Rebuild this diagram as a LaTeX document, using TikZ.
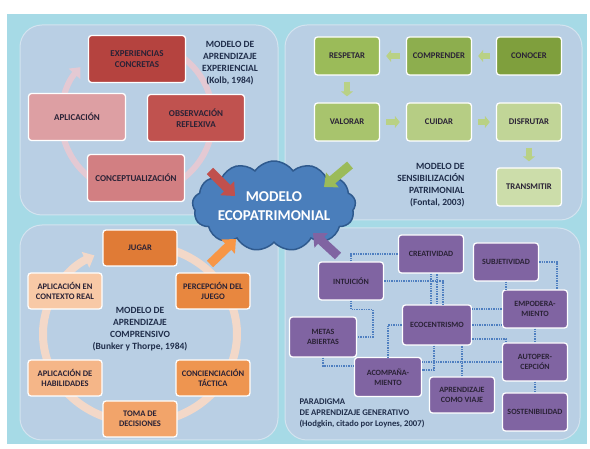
\documentclass[tikz,border=0pt]{standalone}
\usepackage{fontspec}
\setmainfont{Carlito}[BoldFont={Carlito Bold}]
\usepackage{xcolor}
\usetikzlibrary{arrows.meta,shapes.symbols}

\definecolor{bgcyan}{HTML}{A6DAE6}
\definecolor{panel}{HTML}{B9CFE4}
\definecolor{panedge}{HTML}{D3E3EF}
\definecolor{txt}{HTML}{2A2236}
\definecolor{ttl}{HTML}{1F2D4A}
\definecolor{r1}{HTML}{B5433F}
\definecolor{r2}{HTML}{C0524F}
\definecolor{r3}{HTML}{D27F82}
\definecolor{r4}{HTML}{DD9FA3}
\definecolor{g1}{HTML}{7F9F3D}
\definecolor{g2}{HTML}{8DAE4E}
\definecolor{g3}{HTML}{9BBB59}
\definecolor{g4}{HTML}{A8C46D}
\definecolor{g5}{HTML}{B6CD84}
\definecolor{g6}{HTML}{C1D597}
\definecolor{g7}{HTML}{CCDDAA}
\definecolor{o1}{HTML}{E07B36}
\definecolor{o2}{HTML}{E8873F}
\definecolor{o3}{HTML}{EE9550}
\definecolor{o4}{HTML}{F2A46A}
\definecolor{o5}{HTML}{F5B688}
\definecolor{o6}{HTML}{F8C9A6}
\definecolor{purp}{HTML}{8064A2}
\definecolor{lnkblue}{HTML}{4F7FC0}
\definecolor{cloudblue}{HTML}{4A7EBB}
\definecolor{cloudedge}{HTML}{2F5A8E}
\definecolor{ringred}{HTML}{E4C9D3}
\definecolor{ringorange}{HTML}{F3D8C8}
\definecolor{chev}{HTML}{B9D185}
\definecolor{arRed}{HTML}{C0504D}
\definecolor{arGreen}{HTML}{9BBB59}
\definecolor{arOrange}{HTML}{F79646}
\definecolor{arPurple}{HTML}{8064A2}

\begin{document}
\begin{tikzpicture}[
    x=1pt, y=-1pt,
    pane/.style={fill=panel, draw=panedge, line width=1pt, rounded corners=22pt},
    box/.style={rectangle, rounded corners=3pt, draw=white, line width=1.3pt,
                text=txt, align=center, inner sep=1pt,
                font=\bfseries\fontsize{8}{10}\selectfont},
    rbox/.style={box, minimum width=97pt, minimum height=47pt,
                 font=\bfseries\fontsize{9}{11}\selectfont},
    gbox/.style={box, minimum width=65pt, minimum height=38pt,
                 font=\bfseries\fontsize{8.7}{10}\selectfont},
    obox/.style={box, minimum width=74pt, minimum height=36pt,
                 font=\bfseries\fontsize{8.5}{10}\selectfont},
    pbox/.style={box, fill=purp, minimum width=65pt, minimum height=38pt},
    ttl/.style={text=ttl, align=center, font=\bfseries\fontsize{9.5}{12}\selectfont},
    garr/.style={-{Triangle[length=5pt,width=12pt]}, line width=5.5pt, draw=chev,
                 shorten <=6pt, shorten >=6pt},
    big/.style={-{Triangle[length=11pt,width=19pt]}, line width=9pt},
    lnk/.style={draw=lnkblue, line width=1.4pt, densely dotted}
  ]
  \useasboundingbox (0,0) rectangle (590,449);
  \fill[white] (0,0) rectangle (590,449);
  \fill[bgcyan] (7,14) rectangle (587,444);

  % panels
  \draw[pane] (20,25) rectangle (278,215);
  \draw[pane] (285,25) rectangle (582,220);
  \draw[pane] (20,225) rectangle (278,440);
  \draw[pane] (285,228) rectangle (580,440);

  % Kolb
  \draw[ringred, line width=6pt, -{Triangle[length=9pt,width=15pt]}]
    (137,118) ++(-95:76) arc[start angle=-95, end angle=222, radius=76];
  \node[rbox, fill=r1] (exper) at (137,59)  {EXPERIENCIAS\\CONCRETAS};
  \node[rbox, fill=r2] (obser) at (196,118) {OBSERVACIÓN\\REFLEXIVA};
  \node[rbox, fill=r3] (conce) at (136,178) {CONCEPTUALIZACIÓN};
  \node[rbox, fill=r4] (aplic) at (77,117)  {APLICACIÓN};
  \node[ttl] (kolb) at (230,63) {MODELO DE\\APRENDIZAJE\\EXPERIENCIAL\\(Kolb, 1984)};

  % Fontal
  \node[gbox, fill=g3] (respetar)   at (347,56)  {RESPETAR};
  \node[gbox, fill=g2] (comprender) at (439,56)  {COMPRENDER};
  \node[gbox, fill=g1] (conocer)    at (529,56)  {CONOCER};
  \node[gbox, fill=g4] (valorar)    at (347,122) {VALORAR};
  \node[gbox, fill=g5] (cuidar)     at (439,122) {CUIDAR};
  \node[gbox, fill=g6] (disfrutar)  at (529,122) {DISFRUTAR};
  \node[gbox, fill=g7] (transmitir) at (529,187) {TRANSMITIR};
  \foreach \a/\b in {conocer/comprender,comprender/respetar,respetar/valorar,
                     valorar/cuidar,cuidar/disfrutar,disfrutar/transmitir}
    \draw[garr] (\a) -- (\b);
  \node[ttl, align=right, anchor=east] (fontal) at (468,185)
    {MODELO DE\\SENSIBILIZACIÓN\\PATRIMONIAL\\(Fontal, 2003)};

  % Bunker y Thorpe
  \draw[ringorange, line width=8pt, -{Triangle[length=10pt,width=17pt]}]
    (140,334) ++(-80:97 and 89) arc[start angle=-80, end angle=242, x radius=97, y radius=89];
  \node[obox, fill=o1] (jugar)  at (140,248) {JUGAR};
  \node[obox, fill=o2] (percep) at (213,291) {PERCEPCIÓN DEL\\JUEGO};
  \node[obox, fill=o3] (concie) at (213,378) {CONCIENCIACIÓN\\TÁCTICA};
  \node[obox, fill=o4] (toma)   at (140,419) {TOMA DE\\DECISIONES};
  \node[obox, fill=o5] (aplhab) at (65,378)  {APLICACIÓN DE\\HABILIDADES};
  \node[obox, fill=o6] (aplctx) at (65,291)  {APLICACIÓN EN\\CONTEXTO REAL};
  \node[ttl] (bunker) at (140,329)
    {MODELO DE\\APRENDIZAJE\\COMPRENSIVO\\(Bunker y Thorpe, 1984)};

  % Hodgkin
  \node[pbox] (crea)  at (431,254) {CREATIVIDAD};
  \node[pbox] (subj)  at (506,262) {SUBJETIVIDAD};
  \node[pbox] (intu)  at (351,281) {INTUICIÓN};
  \node[pbox] (empo)  at (535,309) {EMPODERA-\\MIENTO};
  \node[pbox, minimum width=69pt, minimum height=40pt] (ecoc) at (437,325) {ECOCENTRISMO};
  \node[pbox, minimum width=67pt, minimum height=40pt] (metas) at (323,337) {METAS\\ABIERTAS};
  \node[pbox] (auto)  at (535,362) {AUTOPER-\\CEPCIÓN};
  \node[pbox, minimum width=67pt, minimum height=39pt] (acomp) at (388,377) {ACOMPAÑA-\\MIENTO};
  \node[pbox, minimum height=36pt] (viaje) at (462,395) {APRENDIZAJE\\COMO VIAJE};
  \node[pbox] (sost)  at (535,412) {SOSTENIBILIDAD};

  \draw[lnk] (intu.north) |- (crea.west);
  \draw[lnk] (intu.east) -| ([xshift=6pt]ecoc.north);
  \draw[lnk] (crea.south) -- (crea.south |- ecoc.north);
  \draw[lnk] (ecoc.north) -- (ecoc.north |- crea.south);
  \draw[lnk] (intu.south) -- ++(0,9) -- ++(22,0) |- (metas.east);
  \draw[lnk] (ecoc.west) -| (acomp.north);
  \draw[lnk] (metas.south) |- ([yshift=11pt]acomp.west);
  \draw[lnk] (auto.west) -- (auto.west -| acomp.east);
  \draw[lnk] ([xshift=-3pt]ecoc.south) |- ([yshift=7pt]acomp.east);
  \draw[lnk] (viaje.north) -- (viaje.north |- ecoc.south);
  \draw[lnk] (ecoc.east) -- (ecoc.east -| empo.west);
  \draw[lnk] (empo.west) -- (empo.west -| ecoc.east);
  \draw[lnk] ([yshift=-14pt]ecoc.east) -| ([xshift=4pt]auto.north west);
  \draw[lnk] (subj.east) -| ([xshift=22pt]empo.north);
  \draw[lnk] (subj.south) -- (subj.south |- empo.north);
  \draw[lnk] (empo.south) -- (auto.north);
  \draw[lnk] (auto.south) -- (sost.north);
  \node[ttl, align=left, anchor=west, font=\bfseries\fontsize{8.7}{11}\selectfont] (hodgkin)
    at (296,413) {PARADIGMA\\DE APRENDIZAJE GENERATIVO\\(Hodgkin, citado por Loynes, 2007)};

  % centre
  \node[cloud, cloud puffs=13, cloud puff arc=110, aspect=2.2, fill=cloudblue,
        draw=cloudedge, line width=1.5pt, minimum width=162pt, minimum height=82pt,
        text=white, align=center, inner sep=0pt,
        font=\bfseries\fontsize{15}{19}\selectfont] (eco) at (274,206)
        {MODELO\\ECOPATRIMONIAL};

  \coordinate (inR) at (210,171);  \coordinate (tipR) at (235,196);
  \coordinate (inG) at (350,165);  \coordinate (tipG) at (324,187);
  \coordinate (inO) at (210,264);  \coordinate (tipO) at (236,239);
  \coordinate (inP) at (338,256);  \coordinate (tipP) at (313,233);
  \foreach \t/\h/\c in {inR/tipR/arRed,inG/tipG/arGreen,inO/tipO/arOrange,inP/tipP/arPurple}
    \draw[big, draw=\c] (\t) -- (\h);
\end{tikzpicture}
\end{document}
